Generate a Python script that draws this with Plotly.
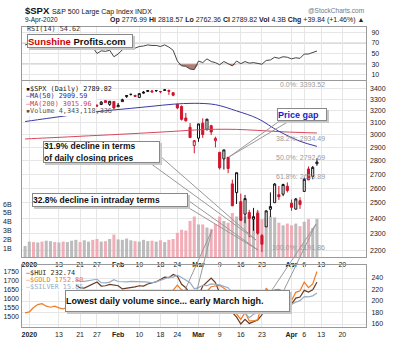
import numpy as np
import plotly.graph_objects as go

W, H = 394, 344

# ---------------- data ----------------
# trading-day index: -1 = 31-Dec-2019, 0 = 2-Jan-2020 ... 68 = 9-Apr-2020
day_idx = list(range(-1, 69))
prev_close_dec30 = 3221.29

tick_idx = [0, 7, 12, 16, 21, 26, 31, 35, 40, 45, 50, 55, 62, 65, 69, 74]
tick_lbl = ["<b>2020</b>", "13", "21", "27", "<b>Feb</b>", "10", "18", "24",
            "<b>Mar</b>", "9", "16", "23", "<b>Apr</b>", "6", "13", "20"]

open_ = [3215.18,
         3244.67, 3226.36, 3217.55, 3241.86, 3238.59, 3266.03, 3281.20, 3271.13, 3285.35, 3282.27, 3302.97,
         3323.66, 3321.03, 3330.02, 3315.77, 3333.10, 3247.16, 3255.35, 3289.46, 3256.45, 3282.33,
         3235.66, 3280.61, 3324.91, 3344.92, 3335.54, 3318.28, 3365.87, 3370.50, 3365.90, 3378.08,
         3369.04, 3380.39, 3380.45, 3360.50, 3257.61, 3238.94, 3139.90, 3062.54, 2916.90,
         2974.28, 3096.46, 3045.75, 3075.70, 2954.20, 2863.89, 2813.48, 2825.60, 2630.86, 2569.99,
         2508.59, 2425.66, 2436.50, 2393.48, 2431.94, 2290.71, 2344.44, 2457.77, 2501.29, 2555.87,
         2558.98, 2614.69,
         2498.08, 2458.54, 2514.92, 2578.28, 2738.65, 2685.00, 2776.99]
high = [3231.72,
        3258.14, 3246.15, 3246.84, 3244.91, 3267.07, 3275.58, 3282.99, 3288.13, 3294.25, 3298.66, 3317.11,
        3329.88, 3329.79, 3337.77, 3326.88, 3333.18, 3258.85, 3285.78, 3293.47, 3285.91, 3282.33,
        3268.44, 3306.92, 3337.58, 3347.96, 3341.42, 3352.26, 3375.63, 3381.47, 3385.09, 3380.69,
        3375.01, 3393.52, 3389.15, 3360.76, 3259.81, 3246.99, 3182.51, 3097.07, 2959.72,
        3090.96, 3136.72, 3130.97, 3083.04, 2985.93, 2863.89, 2882.59, 2825.60, 2660.95, 2711.33,
        2562.98, 2553.93, 2453.57, 2466.97, 2453.01, 2300.73, 2449.71, 2571.42, 2637.01, 2615.91,
        2631.80, 2641.39,
        2522.75, 2533.22, 2538.18, 2676.85, 2756.89, 2760.75, 2818.57]
low = [3212.03,
       3235.53, 3222.34, 3214.64, 3232.43, 3236.67, 3263.67, 3260.86, 3268.43, 3277.19, 3280.69, 3302.82,
       3318.86, 3316.61, 3320.04, 3301.87, 3281.53, 3234.50, 3253.22, 3271.89, 3242.80, 3214.68,
       3235.66, 3280.61, 3313.75, 3334.39, 3322.12, 3317.77, 3352.72, 3369.72, 3360.52, 3366.15,
       3355.61, 3378.83, 3341.02, 3328.45, 3214.65, 3118.77, 3108.99, 2977.39, 2855.84,
       2945.19, 2976.63, 3034.38, 2999.83, 2901.54, 2734.43, 2734.00, 2707.22, 2478.86, 2492.37,
       2380.94, 2367.04, 2280.52, 2319.78, 2295.56, 2191.86, 2344.44, 2407.53, 2500.72, 2520.02,
       2545.28, 2571.15,
       2447.49, 2455.79, 2459.96, 2574.57, 2657.67, 2663.30, 2762.36]
close = [3230.78,
         3257.85, 3234.85, 3246.28, 3237.18, 3253.05, 3274.70, 3265.35, 3288.13, 3283.15, 3289.29, 3316.81,
         3329.62, 3320.79, 3321.75, 3325.54, 3295.47, 3243.63, 3276.24, 3273.40, 3283.66, 3225.52,
         3248.92, 3297.59, 3334.69, 3345.78, 3327.71, 3352.09, 3357.75, 3379.45, 3373.94, 3380.16,
         3370.29, 3386.15, 3373.23, 3337.75, 3225.89, 3128.21, 3116.39, 2978.76, 2954.22,
         3090.23, 3003.37, 3130.12, 3023.94, 2972.37, 2746.56, 2882.23, 2741.38, 2480.64, 2711.02,
         2386.13, 2529.19, 2398.10, 2409.39, 2304.92, 2237.40, 2447.33, 2475.56, 2630.07, 2541.47,
         2626.65, 2584.59,
         2470.50, 2526.90, 2488.65, 2663.68, 2659.41, 2749.98, 2789.82]
volume_b = [1.25,
            1.75, 1.70, 1.65, 1.75, 1.85, 1.80, 1.70, 1.65, 1.75, 1.70, 1.85,
            1.95, 1.70, 1.90, 1.75, 1.95, 2.05, 1.75, 1.80, 2.05, 2.55,
            2.00, 1.95, 2.10, 1.90, 1.80, 1.75, 1.95, 1.80, 1.85, 1.75,
            1.90, 1.70, 1.95, 2.05, 2.75, 3.10, 3.00, 4.10, 4.60,
            3.70, 3.70, 3.35, 3.20, 3.75, 4.60, 4.10, 3.90, 5.00, 4.60,
            4.50, 4.60, 4.80, 4.60, 5.20, 4.30, 4.40, 4.60, 4.50, 3.90,
            3.60, 3.80,
            3.60, 3.80, 3.50, 4.00, 4.30, 3.30, 4.34]
rsi14 = [66,
         68, 60, 64, 61, 66, 70, 66, 71, 69, 70, 74, 76, 72, 72, 72, 62, 50, 55, 54, 56, 44,
         49, 57, 62, 64, 60, 63, 64, 66, 65, 65, 63, 66, 62, 56, 36, 27, 26, 21, 20,
         36, 33, 40, 35, 33, 29, 35, 31, 27, 36, 31, 35, 32, 33, 31, 30, 37, 38, 43, 41, 44, 43,
         40, 42, 41, 49, 49, 52, 54.62]
ma_idx = [-1, 4, 9, 14, 19, 24, 29, 34, 39, 44, 49, 54, 59, 64, 68]
ma50 = [3110, 3135, 3160, 3185, 3205, 3222, 3240, 3258, 3266, 3254, 3200, 3135, 3030, 2950, 2909.59]
ma200 = [2968, 2976, 2984, 2993, 3001, 3010, 3019, 3029, 3040, 3046, 3045, 3037, 3027, 3020, 3015.96]

hui = [232.0,
       231.5, 238.0, 240.5, 237.0, 227.0, 224.0, 226.5, 222.0, 220.0, 223.5, 224.5,
       227.0, 223.0, 222.5, 226.0, 229.5, 233.0, 226.0, 226.5, 229.0, 228.0,
       226.5, 221.0, 222.0, 223.5, 224.5, 226.5, 226.0, 229.5, 231.5, 233.5,
       237.5, 241.5, 240.5, 246.0, 243.0, 229.0, 223.0, 212.5, 199.0,
       209.0, 226.0, 233.0, 240.0, 232.0, 214.0, 212.0, 205.0, 180.0, 172.0,
       160.0, 168.0, 161.0, 164.0, 167.0, 176.0, 200.0, 202.5, 206.0, 199.5,
       197.0, 199.0,
       194.5, 205.0, 207.0, 218.5, 215.5, 219.5, 232.74]
gold = [1523.1,
        1528.1, 1552.4, 1568.8, 1574.3, 1560.2, 1554.3, 1560.3, 1550.4, 1544.8, 1554.9, 1552.2,
        1560.3, 1558.0, 1558.5, 1565.6, 1571.9, 1582.6, 1569.8, 1576.5, 1589.2, 1587.9,
        1582.4, 1555.5, 1557.2, 1569.4, 1573.3, 1579.5, 1570.6, 1570.6, 1578.9, 1586.4,
        1604.3, 1612.0, 1620.5, 1648.8, 1676.6, 1650.6, 1643.1, 1642.5, 1566.7,
        1594.8, 1644.4, 1644.0, 1668.0, 1672.4, 1675.7, 1660.3, 1642.3, 1590.3, 1516.7,
        1486.5, 1525.8, 1477.9, 1478.6, 1484.6, 1567.6, 1660.8, 1634.1, 1651.4, 1654.1,
        1643.3, 1596.6,
        1591.4, 1637.1, 1645.7, 1693.9, 1663.1, 1683.6, 1752.8]
silver = [17.85,
          17.99, 18.13, 18.29, 18.33, 18.18, 17.88, 18.08, 17.93, 17.75, 17.91, 17.88,
          18.03, 17.81, 17.78, 17.86, 18.04, 18.12, 17.57, 17.53, 17.65, 18.04,
          17.75, 17.66, 17.68, 17.78, 17.79, 17.74, 17.70, 17.66, 17.55, 17.69,
          17.97, 18.28, 18.48, 18.49, 18.80, 18.43, 17.94, 17.55, 16.56,
          16.74, 17.12, 17.06, 17.35, 17.33, 17.22, 16.95, 16.73, 15.84, 14.48,
          12.88, 12.53, 11.77, 12.34, 12.56, 12.92, 14.05, 14.26, 14.46, 14.37,
          14.21, 14.00,
          13.97, 14.35, 14.58, 15.26, 15.21, 15.38, 15.85]

fib_high = 3393.52
fib_low = 2191.86
fib_pcts = [0.0, 38.2, 50.0, 61.8, 100.0]
gap_level = 2825.60

price_ticks = list(range(2200, 3500, 100))
rsi_ticks = [10, 30, 50, 70, 90]
vol_ticks = [1, 2, 3, 4, 5, 6]
hui_ticks = [160, 180, 200, 220, 240]
gold_ticks = [1500, 1550, 1600, 1650, 1700, 1750]

# ---------------- helpers ----------------
def fx(px):
    return px / W


def fy(py):
    return 1 - py / H


FONT = "Liberation Sans"
MONO = "DejaVu Sans Mono"
GRID = "#e6e6e6"
BORDER = "#9a9a9a"
RED = "#d0142c"
TF = dict(family=FONT, size=7, color="#222")

XR = [-1.73, 79.6]
XD = [fx(22), fx(366)]
D_RSI = [fy(80.3), fy(26.7)]
D_MAIN = [fy(257), fy(81)]
D_BOT = [fy(327), fy(265)]

n = len(day_idx)
prev = [prev_close_dec30] + close[:-1]

fig = go.Figure()

# ---- volume (base of main panel) ----
vol_col = ["rgba(238,160,172,0.85)" if c < p else "rgba(176,176,176,0.85)" for c, p in zip(close, prev)]
fig.add_trace(go.Bar(x=day_idx, y=volume_b, marker=dict(color=vol_col, line=dict(width=0)),
                     width=0.72, xaxis="x2", yaxis="y2", hoverinfo="skip"))

# ---- moving averages ----
fig.add_trace(go.Scatter(x=ma_idx, y=ma200, mode="lines", line=dict(color="#d8485a", width=1, shape="spline"),
                         xaxis="x2", yaxis="y3", hoverinfo="skip"))
fig.add_trace(go.Scatter(x=ma_idx, y=ma50, mode="lines", line=dict(color="#3a3aa8", width=1, shape="spline"),
                         xaxis="x2", yaxis="y3", hoverinfo="skip"))

# ---- candles (StockCharts colouring) ----
groups = [
    (lambda i: close[i] >= open_[i] and close[i] >= prev[i], "#111", "white"),
    (lambda i: close[i] >= open_[i] and close[i] < prev[i], RED, "white"),
    (lambda i: close[i] < open_[i] and close[i] < prev[i], RED, RED),
    (lambda i: close[i] < open_[i] and close[i] >= prev[i], "#111", "#111"),
]
for cond, lc, fc in groups:
    sel = [cond(i) for i in range(n)]
    o = [open_[i] if sel[i] else None for i in range(n)]
    h = [high[i] if sel[i] else None for i in range(n)]
    l = [low[i] if sel[i] else None for i in range(n)]
    c = [close[i] if sel[i] else None for i in range(n)]
    sty = dict(line=dict(color=lc, width=1), fillcolor=fc)
    fig.add_trace(go.Candlestick(x=day_idx, open=o, high=h, low=l, close=c,
                                 increasing=sty, decreasing=sty, whiskerwidth=0,
                                 xaxis="x2", yaxis="y3", hoverinfo="none"))

# ---- RSI ----
rsi_low = list(np.minimum(np.array(rsi14, dtype=float), 30.0))
fig.add_trace(go.Scatter(x=day_idx, y=[30] * n, mode="lines", line=dict(width=0),
                         xaxis="x", yaxis="y", hoverinfo="skip"))
fig.add_trace(go.Scatter(x=day_idx, y=rsi_low, mode="lines", line=dict(width=0), fill="tonexty",
                         fillcolor="rgba(150,80,70,0.75)", xaxis="x", yaxis="y", hoverinfo="skip"))
fig.add_trace(go.Scatter(x=day_idx, y=rsi14, mode="lines", line=dict(color="#444", width=1),
                         xaxis="x", yaxis="y", hoverinfo="skip"))

# ---- bottom panel ----
fig.add_trace(go.Scatter(x=day_idx, y=silver, mode="lines", line=dict(color="#98acc4", width=1.2),
                         xaxis="x3", yaxis="y6", hoverinfo="skip"))
fig.add_trace(go.Scatter(x=day_idx, y=hui, mode="lines", line=dict(color="#6a3a22", width=1.2),
                         xaxis="x3", yaxis="y4", hoverinfo="skip"))
fig.add_trace(go.Scatter(x=day_idx, y=gold, mode="lines", line=dict(color="#f07a22", width=1.2),
                         xaxis="x3", yaxis="y5", hoverinfo="skip"))

# ---------------- axes ----------------
def xax(anchor, labels):
    return dict(range=XR, domain=XD, anchor=anchor, tickvals=tick_idx, ticktext=tick_lbl,
                showticklabels=labels, showgrid=True, gridcolor=GRID, gridwidth=1, zeroline=False,
                showline=True, mirror=True, linecolor=BORDER, ticks="", tickfont=TF,
                rangeslider=dict(visible=False), fixedrange=True, ticklabelstandoff=1)


layout = dict(
    width=W, height=H, autosize=False, margin=dict(l=0, r=0, t=0, b=0),
    paper_bgcolor="white", plot_bgcolor="white", showlegend=False, hovermode=False,
    xaxis=xax("y", False), xaxis2=xax("y2", True), xaxis3=xax("y4", True),
    yaxis=dict(domain=D_RSI, range=[0, 100], side="right", anchor="x", tickvals=rsi_ticks,
               showgrid=True, gridcolor=GRID, zeroline=False, showline=True, mirror=True,
               linecolor=BORDER, ticks="", tickfont=TF, fixedrange=True, ticklabelstandoff=3),
    yaxis2=dict(domain=D_MAIN, range=[0, 20], side="left", anchor="x2", tickvals=vol_ticks,
                ticktext=[f"{v}B" for v in vol_ticks], showgrid=False, zeroline=False,
                showline=True, mirror=True, linecolor=BORDER, ticks="", tickfont=TF,
                fixedrange=True, ticklabelstandoff=8),
    yaxis3=dict(overlaying="y2", anchor="x2", side="right", type="log", range=[3.3349, 3.5400],
                tickvals=price_ticks, ticktext=[str(v) for v in price_ticks], showgrid=True,
                gridcolor=GRID, zeroline=False, showline=False, ticks="", tickfont=TF,
                fixedrange=True, ticklabelstandoff=3),
    yaxis4=dict(domain=D_BOT, range=[154.8, 262.6], side="right", anchor="x3", tickvals=hui_ticks,
                showgrid=True, gridcolor=GRID, zeroline=False, showline=True, mirror=True,
                linecolor=BORDER, ticks="", tickfont=TF, fixedrange=True, ticklabelstandoff=3),
    yaxis5=dict(overlaying="y4", anchor="x3", side="left", range=[1444.4, 1788.9], tickvals=gold_ticks,
                showgrid=False, zeroline=False, showline=False, ticks="", tickfont=TF,
                fixedrange=True, ticklabelstandoff=2),
    yaxis6=dict(overlaying="y4", anchor="x3", visible=False, range=[10.23, 20.48], fixedrange=True),
)
fig.update_layout(**layout)

shapes = []
annos = []

# RSI reference lines
for lvl, dash, col in [(70, "solid", "#777"), (30, "solid", "#777"), (50, "dashdot", "#888")]:
    shapes.append(dict(type="line", xref="x", yref="y", x0=XR[0], x1=XR[1], y0=lvl, y1=lvl,
                       line=dict(color=col, width=1, dash=dash), layer="below"))

# Fibonacci retracement lines + labels
for p in fib_pcts:
    lvl = fib_high - p / 100.0 * (fib_high - fib_low)
    ly = float(np.log10(lvl))
    shapes.append(dict(type="line", xref="x2", yref="y3", x0=27.9, x1=70.4, y0=ly, y1=ly,
                       line=dict(color="#666", width=1), layer="above"))
    annos.append(dict(xref="x2", yref="y3", x=70.4, y=ly, xanchor="right", yanchor="bottom",
                      text=f"{p:.1f}%: {lvl:.2f}", showarrow=False,
                      font=dict(family=FONT, size=7, color="#9a9a9a"), yshift=-1))

# Price gap line
gy = float(np.log10(gap_level))
shapes.append(dict(type="line", xref="x2", yref="y3", x0=47, x1=76.3, y0=gy, y1=gy,
                   line=dict(color="#1c1cc8", width=2), layer="above"))

# dashed trend lines
shapes.append(dict(type="line", xref="x2", yref="y3", x0=32.8, x1=52.7, y0=3.5319, y1=3.3571,
                   line=dict(color="#333", width=1, dash="dash"), layer="above"))
shapes.append(dict(type="line", xref="x2", yref="y3", x0=34.4, x1=49.8, y0=3.5179, y1=3.3722,
                   line=dict(color="#d03030", width=1, dash="dash"), layer="above"))

# legend backgrounds
shapes.append(dict(type="rect", xref="paper", yref="paper", x0=fx(23), x1=fx(96), y0=fy(116), y1=fy(84),
                   fillcolor="white", line=dict(width=0), layer="above"))
shapes.append(dict(type="rect", xref="paper", yref="paper", x0=fx(23), x1=fx(76), y0=fy(291), y1=fy(267),
                   fillcolor="white", line=dict(width=0), layer="above"))

# callout pointers (pixel geometry)
def wedge(b1, b2, tip):
    path = (f"M {fx(b1[0])},{fy(b1[1])} L {fx(tip[0])},{fy(tip[1])} L {fx(b2[0])},{fy(b2[1])}")
    shapes.append(dict(type="path", xref="paper", yref="paper", path=path,
                       line=dict(color="#999", width=1), layer="above"))

wedge((150, 163), (160, 156), (256, 240))
wedge((182, 196), (184, 205), (258, 250))
wedge((281, 120), (291, 120), (229, 157))
wedge((185, 290), (197, 290), (212, 230))
wedge((272, 290), (284, 290), (316, 224))

# callout boxes with shadows
def box(x, y, w, h, text, size=8.5, color="#111"):
    shapes.append(dict(type="rect", xref="paper", yref="paper", x0=fx(x + 2), x1=fx(x + w + 4),
                       y0=fy(y + h + 4), y1=fy(y + 2), fillcolor="#c8c8c8", line=dict(width=0),
                       layer="above"))
    annos.append(dict(xref="paper", yref="paper", x=fx(x), y=fy(y), xanchor="left", yanchor="top",
                      text=text, showarrow=False, width=w, height=h, align="left", valign="middle",
                      bgcolor="white", bordercolor="#888", borderwidth=1, borderpad=0,
                      font=dict(family=FONT, size=size, color=color)))

box(27, 34, 104, 12, "<b><span style='color:#cc0000'>Sunshine</span> Profits.com</b>", size=9.5)
box(43, 141, 115, 20, "<b>31.9% decline in terms<br>of daily closing prices</b>", size=8.5)
box(32, 193, 154, 12, "<b>32.8% decline in intraday terms</b>", size=8.5)
box(277, 108, 48, 11, "<b>Price gap</b>", size=9, color="#1c1cc8")
box(65, 290, 223, 20, "<b>Lowest daily volume since... early March high.</b>", size=9)

# header texts
annos.append(dict(xref="paper", yref="paper", x=fx(23), y=fy(10), xanchor="left", yanchor="middle",
                  showarrow=False, text="<b>$SPX</b> <span style='font-size:7px'>S&P 500 Large Cap Index INDX</span>",
                  font=dict(family=FONT, size=9.5, color="#111")))
annos.append(dict(xref="paper", yref="paper", x=fx(366), y=fy(10), xanchor="right", yanchor="middle",
                  showarrow=False, text="@StockCharts.com", font=dict(family=FONT, size=6.5, color="#777")))
annos.append(dict(xref="paper", yref="paper", x=fx(23), y=fy(20), xanchor="left", yanchor="middle",
                  showarrow=False, text="9-Apr-2020", font=dict(family=FONT, size=6.5, color="#222")))
annos.append(dict(xref="paper", yref="paper", x=fx(366), y=fy(20), xanchor="right", yanchor="middle",
                  showarrow=False,
                  text="<b>Op</b> 2776.99 <b>Hi</b> 2818.57 <b>Lo</b> 2762.36 <b>Cl</b> 2789.82 "
                       "<b>Vol</b> 4.3B <b>Chg</b> +39.84 (+1.46%) ▲",
                  font=dict(family=FONT, size=7, color="#222")))
annos.append(dict(xref="paper", yref="paper", x=fx(25), y=fy(29), xanchor="left", yanchor="middle",
                  showarrow=False, text="RSI(14) 54.62", font=dict(family=MONO, size=6.8, color="#333")))

# main legend
for yy, txt, col in [(89, "▪$SPX (Daily) 2789.82", "#111"),
                     (96.5, "—MA(50) 2909.59", "#2a2a9a"),
                     (104, "—MA(200) 3015.96", "#d04050"),
                     (111, "▪Volume 4,343,118,336", "#555")]:
    annos.append(dict(xref="paper", yref="paper", x=fx(24), y=fy(yy), xanchor="left", yanchor="middle",
                      showarrow=False, text=txt, font=dict(family=MONO, size=6.8, color=col)))

# bottom legend
for yy, txt, col in [(273, "—$HUI 232.74", "#3a2a1a"),
                     (280, "—$GOLD 1752.80", "#f07a22"),
                     (287, "—$SILVER 15.85", "#98acc4")]:
    annos.append(dict(xref="paper", yref="paper", x=fx(24), y=fy(yy), xanchor="left", yanchor="middle",
                      showarrow=False, text=txt, font=dict(family=MONO, size=6.8, color=col)))

fig.update_layout(shapes=shapes, annotations=annos)
fig.write_html("out.html", include_plotlyjs=True, config={"displayModeBar": False, "staticPlot": True})
